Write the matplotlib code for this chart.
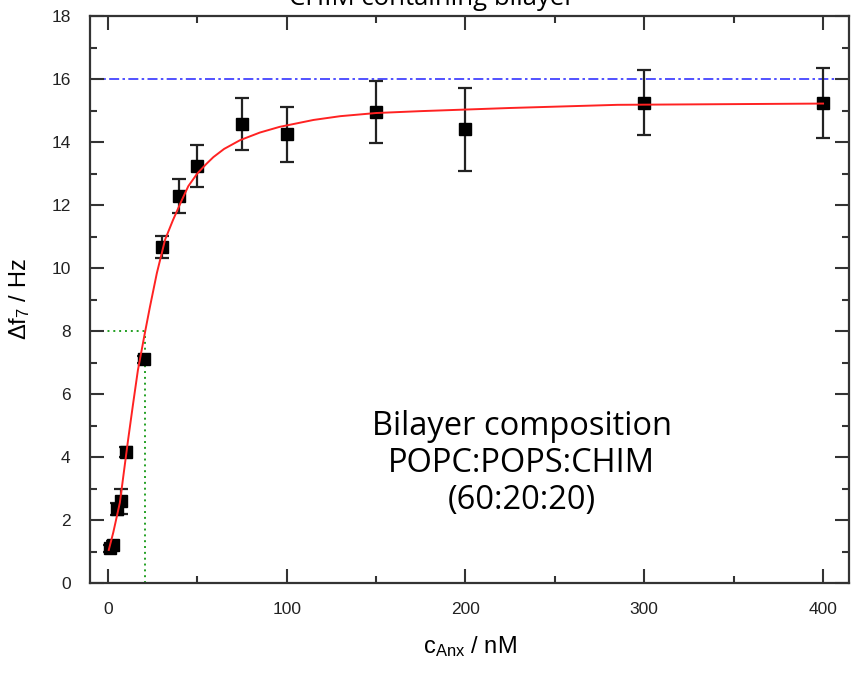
"""
Binding curve: frequency shift vs. annexin concentration on a CHIM containing bilayer.
"""

import matplotlib

matplotlib.use("Agg")  # non-interactive backend

import matplotlib.pyplot as plt
from matplotlib.ticker import MultipleLocator

# ---------------------------------------------------------------------------
# Data
# ---------------------------------------------------------------------------

conc_nM = [1, 3, 5, 7.5, 10, 20, 30, 40, 50, 75, 100, 150, 200, 300, 400]
delta_f7 = [1.1, 1.2, 2.35, 2.6, 4.16, 7.1, 10.67, 12.3, 13.25, 14.57, 14.25, 14.95, 14.4, 15.24, 15.24]
delta_f7_err = [0.12, 0.12, 0.2, 0.4, 0.15, 0.12, 0.35, 0.54, 0.67, 0.83, 0.87, 0.98, 1.33, 1.03, 1.12]

fit_x = [0.5, 3, 6.7, 11.2, 14, 16.8, 20.7, 23.5, 27.4, 32, 36.4, 41.4, 45, 50, 55, 59, 65,
         74, 85, 96, 115, 130, 150, 175, 225, 285, 400]
fit_y = [1.05, 1.6, 2.55, 4.5, 5.65, 6.76, 7.94, 8.76, 9.84, 10.9, 11.52, 12.16, 12.6, 13.0,
         13.3, 13.52, 13.78, 14.06, 14.3, 14.48, 14.7, 14.82, 14.92, 14.98, 15.08, 15.18, 15.22]

saturation_level = 16
half_point = (21, 8)

title_text = "CHIM containing bilayer"
note_lines = ["Bilayer composition", "POPC:POPS:CHIM", "(60:20:20)"]

# ---------------------------------------------------------------------------
# Figure
# ---------------------------------------------------------------------------

plt.rcParams["mathtext.fontset"] = "custom"
plt.rcParams["mathtext.rm"] = "Liberation Sans"
plt.rcParams["mathtext.it"] = "Liberation Sans"

AXIS_COLOUR = "#333333"
TICK_FONT = ["Liberation Sans Narrow", "Liberation Sans"]

fig = plt.figure(figsize=(8.51, 6.73), dpi=100)
ax = fig.add_axes([90 / 851, 1 - 583 / 673, 759 / 851, 567 / 673])

ax.axhline(saturation_level, color="#3333ff", linestyle=(0, (6, 2, 1.5, 2)), linewidth=1.2, zorder=1)
ax.plot([-10, half_point[0]], [half_point[1], half_point[1]], color="#22a022",
        linestyle=(0, (1, 2)), linewidth=1.4, zorder=1)
ax.plot([half_point[0], half_point[0]], [0, half_point[1]], color="#22a022",
        linestyle=(0, (1, 2)), linewidth=1.4, zorder=1)

ax.plot(fit_x, fit_y, color="#ff2222", linewidth=1.4, zorder=3)
ax.errorbar(conc_nM, delta_f7, yerr=delta_f7_err, fmt="s", color="black", markersize=9,
            ecolor="#222222", elinewidth=1.6, capsize=5, capthick=1.6, zorder=2)

ax.set_xlim(-10, 414.5)
ax.set_ylim(0, 18)
ax.xaxis.set_major_locator(MultipleLocator(100))
ax.xaxis.set_minor_locator(MultipleLocator(50))
ax.yaxis.set_major_locator(MultipleLocator(2))
ax.yaxis.set_minor_locator(MultipleLocator(1))
ax.tick_params(which="both", direction="in", top=True, right=True, color=AXIS_COLOUR,
               width=1.5, labelsize=12.5, labelcolor="#222222")
ax.tick_params(axis="x", pad=14)
ax.tick_params(axis="y", pad=14)
ax.tick_params(which="major", length=10)
ax.tick_params(which="minor", length=5)
for lab in ax.get_xticklabels() + ax.get_yticklabels():
    lab.set_fontfamily(TICK_FONT)
for spine in ax.spines.values():
    spine.set_color(AXIS_COLOUR)
    spine.set_linewidth(1.6)

ax.set_xlabel(r"c$_{\mathrm{Anx}}$ / nM", fontsize=17, family="Liberation Sans", labelpad=12)
ax.set_ylabel(r"$\Delta$f$_7$ / Hz", fontsize=17, family="Liberation Sans", labelpad=14)

ax.text(231.5, 3.8, "\n".join(note_lines), ha="center", va="center", fontsize=23.5,
        family="Open Sans", linespacing=1.15)

# title sits mostly above the canvas, as in the reference crop
fig.text(432 / 851, 1 - 5 / 673, title_text, ha="center", va="baseline", fontsize=18.5,
         family="Open Sans")

fig.savefig("out.png", dpi=100)
plt.close(fig)
